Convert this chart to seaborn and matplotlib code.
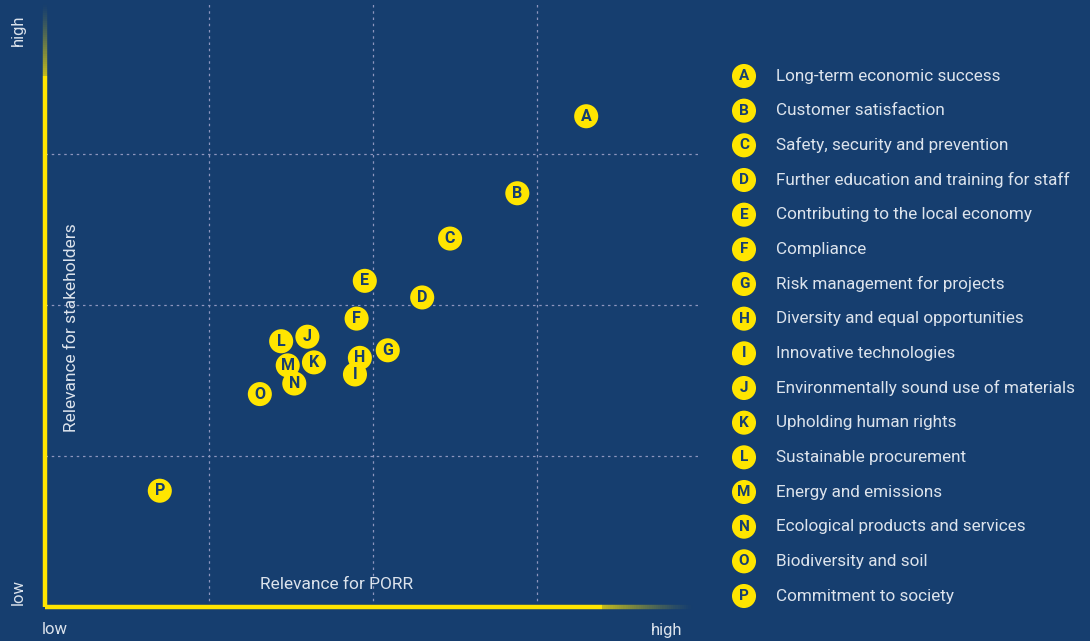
import numpy as np
import pandas as pd
import matplotlib
matplotlib.use("Agg")
import matplotlib.pyplot as plt
import seaborn as sns
from matplotlib.collections import LineCollection

BG = "#163e6f"
YELLOW = "#ffe500"
TEXT = "#dce3ec"
GRID = "#8d95bd"

# topics and their position in the materiality matrix
letters = list("ABCDEFGHIJKLMNOP")
topics = [
    "Long-term economic success",
    "Customer satisfaction",
    "Safety, security and prevention",
    "Further education and training for staff",
    "Contributing to the local economy",
    "Compliance",
    "Risk management for projects",
    "Diversity and equal opportunities",
    "Innovative technologies",
    "Environmentally sound use of materials",
    "Upholding human rights",
    "Sustainable procurement",
    "Energy and emissions",
    "Ecological products and services",
    "Biodiversity and soil",
    "Commitment to society",
]
relevance_porr = [3.30, 2.88, 2.47, 2.30, 1.95, 1.90, 2.09, 1.92, 1.89, 1.60, 1.64, 1.44, 1.48, 1.52, 1.31, 0.70]
relevance_stakeholders = [3.25, 2.74, 2.44, 2.05, 2.16, 1.91, 1.70, 1.65, 1.54, 1.79, 1.62, 1.76, 1.60, 1.48, 1.41, 0.77]

df = pd.DataFrame({"letter": letters, "topic": topics,
                   "porr": relevance_porr, "stake": relevance_stakeholders})

sns.set_style("dark")
plt.rcParams["font.family"] = ["Roboto", "DejaVu Sans"]

fig = plt.figure(figsize=(10.9, 6.41), dpi=100, facecolor=BG)
ax = fig.add_axes([45 / 1090, 34 / 641, 656 / 1090, 604 / 641])
ax.set_facecolor(BG)
ax.set_xlim(0, 4)
ax.set_ylim(0, 4)

# dotted grid
for v in [1, 2, 3]:
    ax.axvline(v, color=GRID, lw=0.9, ls=(0, (2, 3)), zorder=1)
    ax.axhline(v, color=GRID, lw=0.9, ls=(0, (2, 3)), zorder=1)

for s in ax.spines.values():
    s.set_visible(False)
ax.set_xticks([])
ax.set_yticks([])
ax.set_xlabel("")
ax.set_ylabel("")


def chalk_line(ax, x0, y0, x1, y1, solid_frac, n=300):
    t = np.linspace(0, 1, n)
    xs = x0 + (x1 - x0) * t
    ys = y0 + (y1 - y0) * t
    pts = np.column_stack([xs, ys]).reshape(-1, 1, 2)
    segs = np.concatenate([pts[:-1], pts[1:]], axis=1)
    tm = (t[:-1] + t[1:]) / 2
    alpha = np.where(tm < solid_frac, 1.0,
                     np.clip(1 - (tm - solid_frac) / (1 - solid_frac), 0, 1) ** 1.3 * 0.75)
    cols = np.zeros((len(tm), 4))
    cols[:, :3] = matplotlib.colors.to_rgb(YELLOW)
    cols[:, 3] = alpha
    lc = LineCollection(segs, colors=cols, linewidths=3.2, capstyle="butt",
                        transform=ax.transData, clip_on=False, zorder=3)
    ax.add_collection(lc)


chalk_line(ax, 0, 0, 0, 4.0, 0.88)
chalk_line(ax, 0, 0, 3.95, 0, 0.86)

sns.scatterplot(data=df, x="porr", y="stake", ax=ax, s=300, color=YELLOW,
                edgecolor="none", zorder=4, legend=False)
for _, r in df.iterrows():
    ax.text(r["porr"], r["stake"], r["letter"], ha="center", va="center",
            fontsize=11.5, fontweight="bold", color=BG, zorder=5)

ax.text(1.31, 0.10, "Relevance for PORR", color=TEXT, fontsize=12.5, ha="left", va="bottom")
ax.text(0.16, 1.85, "Relevance for stakeholders", color=TEXT, fontsize=12.5,
        rotation=90, ha="center", va="center")

fig.text(18 / 1090, 1 - 30 / 641, "high", color=TEXT, fontsize=12, rotation=90, ha="center", va="center")
fig.text(18 / 1090, 1 - 592 / 641, "low", color=TEXT, fontsize=12, rotation=90, ha="center", va="center")
fig.text(55 / 1090, 1 - 630 / 641, "low", color=TEXT, fontsize=12, ha="center", va="center")
fig.text(667 / 1090, 1 - 630 / 641, "high", color=TEXT, fontsize=12, ha="center", va="center")

# legend list on the right
n = len(df)
step = 520 / (n - 1)
top = 76 - step / 2
lax = fig.add_axes([720 / 1090, 1 - (top + n * step) / 641, 370 / 1090, n * step / 641])
lax.set_facecolor(BG)
lax.set_xlim(0, 370)
lax.set_ylim(n - 0.5, -0.5)
lax.axis("off")
idx = np.arange(n)
lax.scatter(np.full(n, 24), idx, s=300, color=YELLOW, edgecolor="none")
for i, r in df.iterrows():
    lax.text(24, i, r["letter"], ha="center", va="center", fontsize=11,
             fontweight="bold", color=BG)
    lax.text(56, i, r["topic"], ha="left", va="center", fontsize=12.3, color=TEXT)

fig.savefig("out.png", dpi=100, facecolor=BG)
